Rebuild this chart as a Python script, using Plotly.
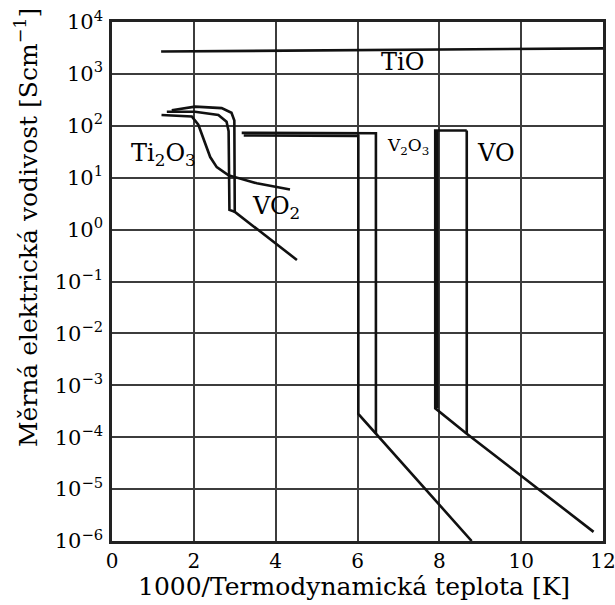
import plotly.graph_objects as go

# Conductivity (S/cm) versus 1000/T for titanium and vanadium oxides
tio_x = [1.2, 12.0]
tio_y = [2700, 3100]

ti2o3_x = [1.21, 1.95, 2.11, 2.23, 2.40, 2.56, 2.84, 3.54, 4.35]
ti2o3_y = [162, 151, 105, 58, 25, 16, 11.2, 7.8, 5.9]

vo2_outer_x = [1.46, 2.03, 2.68, 2.92, 2.99, 2.99, 3.0, 4.52]
vo2_outer_y = [200, 234, 219, 178, 126, 2.5, 2.2, 0.26]
vo2_inner_x = [1.34, 2.03, 2.60, 2.80, 2.85, 2.87, 3.0]
vo2_inner_y = [186, 186, 162, 120, 79, 2.4, 2.2]

v2o3_a_x = [3.22, 6.02, 6.02, 6.45, 8.79]
v2o3_a_y = [65, 64, 2.8e-4, 1.17e-4, 1.0e-6]
v2o3_b_x = [3.17, 6.45, 6.45]
v2o3_b_y = [73, 72, 1.17e-4]

vo_a_x = [8.67, 7.90, 7.90, 8.67, 11.77]
vo_a_y = [81, 81, 3.6e-4, 1.17e-4, 1.5e-6]
vo_b_x = [8.67, 8.67]
vo_b_y = [81, 1.17e-4]
vo_c_x = [7.95, 7.95]
vo_c_y = [81, 3.6e-4]

x_ticks = [0, 2, 4, 6, 8, 10, 12]
y_exponents = [4, 3, 2, 1, 0, -1, -2, -3, -4, -5, -6]

# (text, x, log10 of conductivity, font size)
labels = [
    ("TiO", 7.10, 3.22, 24),
    ("Ti<sub>2</sub>O<sub>3</sub>", 1.27, 1.45, 24),
    ("VO<sub>2</sub>", 4.00, 0.42, 24),
    ("V<sub>2</sub>O<sub>3</sub>", 7.24, 1.60, 17),
    ("VO", 9.39, 1.47, 24),
]

FONT = "DejaVu Serif"
line = dict(color="#111111", width=2.6)

fig = go.Figure()
for xs, ys in [
    (tio_x, tio_y),
    (ti2o3_x, ti2o3_y),
    (vo2_outer_x, vo2_outer_y),
    (vo2_inner_x, vo2_inner_y),
    (v2o3_a_x, v2o3_a_y),
    (v2o3_b_x, v2o3_b_y),
    (vo_a_x, vo_a_y),
    (vo_b_x, vo_b_y),
    (vo_c_x, vo_c_y),
]:
    fig.add_trace(go.Scatter(x=xs, y=ys, mode="lines", line=line,
                             showlegend=False, hoverinfo="skip"))

for text, x, ly, size in labels:
    fig.add_annotation(x=x, y=ly, xref="x", yref="y", text=text, showarrow=False,
                       font=dict(family=FONT, size=size, color="black"))

# axis titles
fig.add_annotation(text="1000/Termodynamická teplota [K]", xref="paper", yref="paper",
                   x=0.492, y=-0.087, showarrow=False, xanchor="center", yanchor="middle",
                   font=dict(family=FONT, size=25, color="black"))
fig.add_annotation(text="Měrná elektrická vodivost [Scm<sup>\u22121</sup>]",
                   xref="paper", yref="paper", x=-0.175, y=0.603, textangle=-90,
                   showarrow=False, xanchor="center", yanchor="middle",
                   font=dict(family=FONT, size=25, color="black"))

ytext = [f"10<sup>{e}</sup>".replace("-", "\u2212") for e in y_exponents]

fig.update_layout(
    width=615, height=605,
    margin=dict(l=112, r=12, t=22, b=64),
    paper_bgcolor="white", plot_bgcolor="white",
    font=dict(family=FONT, color="black"),
    xaxis=dict(
        range=[0, 12], tickvals=x_ticks, ticktext=[str(v) for v in x_ticks],
        showgrid=True, gridcolor="#3c3c3c", gridwidth=1.6,
        showline=True, linecolor="#222222", linewidth=2.5, mirror=True,
        ticks="", tickfont=dict(size=20), zeroline=False, ticklabelstandoff=0,
        automargin=False, ticklabeloverflow="allow",
    ),
    yaxis=dict(
        type="log", range=[-6, 4],
        tickvals=[10 ** e for e in y_exponents], ticktext=ytext,
        showgrid=True, gridcolor="#3c3c3c", gridwidth=1.6,
        showline=True, linecolor="#222222", linewidth=2.5, mirror=True,
        ticks="", tickfont=dict(size=21), zeroline=False, ticklabelstandoff=2,
        automargin=False, ticklabeloverflow="allow",
    ),
)

fig.write_html("out.html")
